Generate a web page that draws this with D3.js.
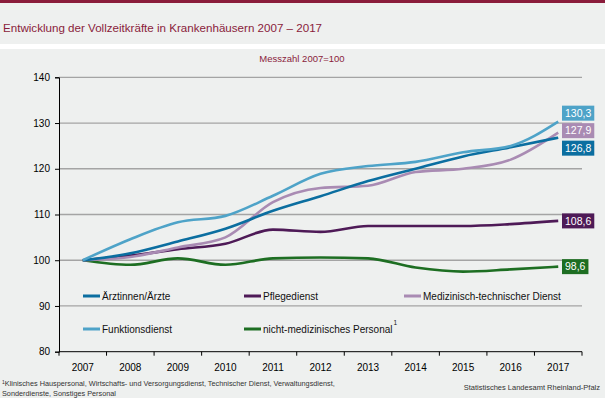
<!DOCTYPE html>
<html>
<head>
<meta charset="utf-8">
<script src="https://cdn.jsdelivr.net/npm/d3@7"></script>
<style>
body { margin: 0; background: #eef0ef; }
svg text { font-family: "Liberation Sans", Arial, sans-serif; }
</style>
</head>
<body>
<script>
var years = ["2007", "2008", "2009", "2010", "2011", "2012", "2013", "2014", "2015", "2016", "2017"];
var aerzte = [100, 101.5, 104.1, 106.9, 110.8, 114.0, 117.3, 120.0, 122.7, 124.7, 126.8];
var pflege = [100, 101.0, 102.4, 103.6, 106.7, 106.2, 107.5, 107.5, 107.5, 107.9, 108.6];
var medtech = [100, 100.7, 102.8, 105.0, 112.7, 115.8, 116.3, 119.3, 120.0, 122.0, 127.9];
var funktion = [100, 104.6, 108.3, 109.7, 114.1, 118.9, 120.6, 121.5, 123.6, 125.0, 130.3];
var nichtmed = [100, 99.0, 100.4, 99.0, 100.4, 100.6, 100.4, 98.4, 97.5, 98.0, 98.6];
var seriesNames = ["Ärztinnen/Ärzte", "Pflegedienst", "Medizinisch-technischer Dienst", "Funktionsdienst", "nicht-medizinisches Personal"];
var yTicks = [80, 90, 100, 110, 120, 130, 140];

var colors = ["#0b6ea0", "#4e1a57", "#a98bb3", "#4ea3c8", "#1d6e22"];
var allValues = [aerzte, pflege, medtech, funktion, nichtmed];
var series = seriesNames.map(function(n, i){
	return {name: n, values: allValues[i], color: colors[i]};
});

var w = 605;
var h = 398;

var svg = d3.select("body")
			.append("svg")
			.attr("width", w)
			.attr("height", h);

svg.append("rect").attr("width", w).attr("height", h).attr("fill", "#eef0ef");
svg.append("rect").attr("width", w).attr("height", 3).attr("fill", "#8a1c3b");
svg.append("rect").attr("y", 44).attr("width", w).attr("height", 5).attr("fill", "#ffffff");

svg.append("text")
	.attr("x", 3)
	.attr("y", 32)
	.attr("fill", "#8a1c3b")
	.attr("font-size", 11.6)
	.text("Entwicklung der Vollzeitkräfte in Krankenhäusern 2007 – 2017");

svg.append("text")
	.attr("x", 302)
	.attr("y", 62)
	.attr("text-anchor", "middle")
	.attr("fill", "#8a1c3b")
	.attr("font-size", 9.5)
	.text("Messzahl 2007=100");

var xScale = d3.scalePoint()
				.domain(years)
				.range([59, 582])
				.padding(0.5);

var yScale = d3.scaleLinear()
				.domain([80, 140])
				.range([351.7, 77.3]);

// gridlines
svg.selectAll("line.grid")
	.data(yTicks.slice(1))
	.enter()
	.append("line")
	.attr("class", "grid")
	.attr("x1", 59)
	.attr("x2", 582)
	.attr("y1", function(d){ return yScale(d); })
	.attr("y2", function(d){ return yScale(d); })
	.attr("stroke", "#a4a4a4")
	.attr("stroke-width", 1.3);

var yAxis = d3.axisLeft(yScale).tickValues(yTicks).tickSize(4).tickPadding(5);
var gy = svg.append("g")
	.attr("transform", "translate(59,0)")
	.call(yAxis);
gy.select(".domain").attr("stroke", "#000");
gy.selectAll("text").attr("font-size", 10).attr("font-family", "Liberation Sans, Arial, sans-serif").attr("fill", "#000");

// x axis: ticks between categories
var step = xScale.step();
var gx = svg.append("g")
	.attr("transform", "translate(0,351.7)");
gx.append("line").attr("x1", 59).attr("x2", 582).attr("stroke", "#000");
gx.selectAll("line.tk")
	.data(d3.range(years.length + 1))
	.enter()
	.append("line")
	.attr("class", "tk")
	.attr("x1", function(i){ return 59 + i * step; })
	.attr("x2", function(i){ return 59 + i * step; })
	.attr("y1", 0)
	.attr("y2", 4)
	.attr("stroke", "#000");
gx.selectAll("text")
	.data(years)
	.enter()
	.append("text")
	.attr("x", function(d){ return xScale(d); })
	.attr("y", 19)
	.attr("text-anchor", "middle")
	.attr("font-size", 10)
	.text(function(d){ return d; });

var line = d3.line()
	.x(function(d, i){ return xScale(years[i]); })
	.y(function(d){ return yScale(d); })
	.curve(d3.curveMonotoneX);

// draw order: green, purple, lilac, dark blue, light blue
[4, 1, 2, 0, 3].forEach(function(k){
	svg.append("path")
		.datum(series[k].values)
		.attr("d", line)
		.attr("fill", "none")
		.attr("stroke", series[k].color)
		.attr("stroke-width", 2.6);
});

// end labels, pushed apart when overlapping
var labels = series.map(function(s){
	var v = s.values[s.values.length - 1];
	return {text: d3.format(".1f")(v).replace(".", ","), y: yScale(v), color: s.color};
});
labels.sort(function(a, b){ return a.y - b.y; });
for (var it = 0; it < 50; it++) {
	for (var j = 1; j < labels.length; j++) {
		var gap = labels[j].y - labels[j-1].y;
		if (gap < 17.5) {
			var shift = (17.5 - gap) / 2;
			labels[j].y += shift;
			labels[j-1].y -= shift;
		}
	}
}
var lab = svg.selectAll("g.lab")
	.data(labels)
	.enter()
	.append("g")
	.attr("class", "lab")
	.attr("transform", function(d){ return "translate(562," + d.y + ")"; });
lab.append("text")
	.attr("x", 3)
	.attr("y", 3.6)
	.attr("font-size", 10.5)
	.attr("fill", "#fff")
	.text(function(d){ return d.text; })
	.each(function(d){ d.w = this.getComputedTextLength(); });
lab.insert("rect", "text")
	.attr("x", 0)
	.attr("y", -7.5)
	.attr("height", 15)
	.attr("width", function(d){ return d.w + 6; })
	.attr("fill", function(d){ return d.color; });

// legend
var legendPos = [[83, 296], [244, 296], [404, 296], [83, 329], [244, 329]];
var lg = svg.selectAll("g.leg")
	.data(series)
	.enter()
	.append("g")
	.attr("class", "leg")
	.attr("transform", function(d, i){ return "translate(" + legendPos[i][0] + "," + legendPos[i][1] + ")"; });
lg.append("line")
	.attr("x1", 0)
	.attr("x2", 17)
	.attr("stroke", function(d){ return d.color; })
	.attr("stroke-width", 3);
lg.append("text")
	.attr("x", 19)
	.attr("y", 3.5)
	.attr("font-size", 10)
	.attr("fill", "#111")
	.text(function(d){ return d.name; })
	.each(function(d){ d.tw = this.getComputedTextLength(); });
lg.filter(function(d, i){ return i === 4; })
	.append("text")
	.attr("x", function(d){ return 19 + d.tw + 1; })
	.attr("y", -4)
	.attr("font-size", 6.5)
	.attr("fill", "#111")
	.text("1");

// footnote and source
var foot = svg.append("text")
	.attr("x", 2)
	.attr("font-size", 7.3)
	.attr("fill", "#333");
foot.append("tspan").attr("x", 2).attr("y", 386).attr("font-size", 5).attr("dy", -2).text("1");
foot.append("tspan").attr("dy", 2).text("Klinisches Hauspersonal, Wirtschafts- und Versorgungsdienst, Technischer Dienst, Verwaltungsdienst,");
foot.append("tspan").attr("x", 2).attr("y", 396).text("Sonderdienste, Sonstiges Personal");

svg.append("text")
	.attr("x", 600)
	.attr("y", 390)
	.attr("text-anchor", "end")
	.attr("font-size", 7.5)
	.attr("fill", "#333")
	.text("Statistisches Landesamt Rheinland-Pfalz");
</script>
</body>
</html>
